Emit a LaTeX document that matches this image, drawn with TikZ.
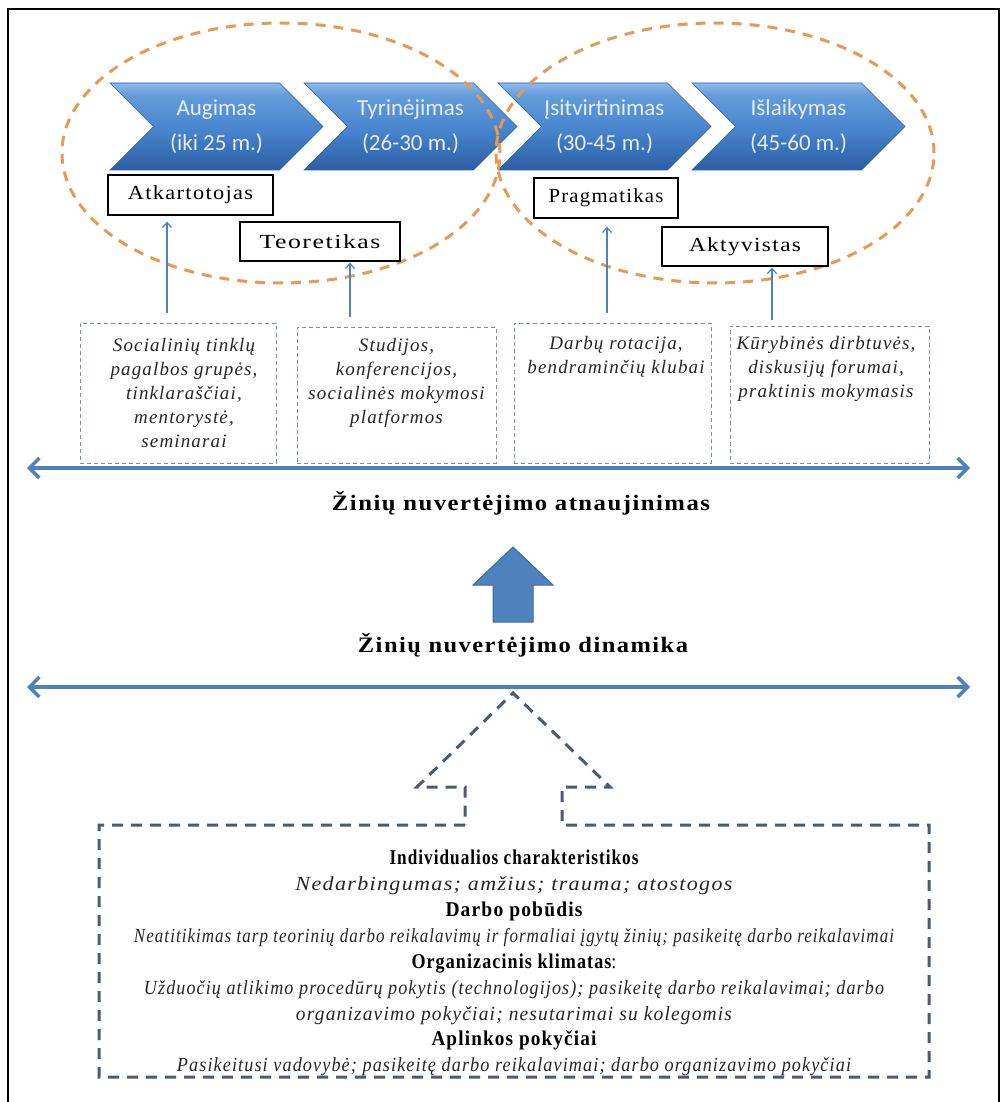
\documentclass[tikz,border=0pt]{standalone}
\usepackage{graphicx}
\usepackage{fontspec}
\setmainfont{Liberation Serif}[LetterSpace=6]
\newfontfamily\chevfont{Carlito}
\usetikzlibrary{arrows.meta,shapes.symbols,calc}

\definecolor{chevT}{HTML}{8CBBEA}
\definecolor{chevM}{HTML}{4A87CF}
\definecolor{chevB}{HTML}{2C5EA4}
\definecolor{chevTxt}{HTML}{E4EEF9}
\definecolor{ringc}{HTML}{E79A55}
\definecolor{steel}{HTML}{4F81BD}
\definecolor{steelD}{HTML}{3A6A9E}
\definecolor{slate}{HTML}{4A5B72}
\definecolor{boxdash}{HTML}{7D8FA8}

\pgfdeclareverticalshading{chevshade}{100bp}{%
  color(0bp)=(chevB); color(25bp)=(chevB); color(50bp)=(chevM);
  color(68bp)=(chevM!60!chevT); color(75bp)=(chevT); color(100bp)=(chevT)}

% stretch a line of text horizontally to a given width
\newcommand\fitw[2]{\resizebox{#1pt}{\height}{#2}}

\tikzset{
  chev/.style={signal, signal from=west, signal to=east,
    minimum width=213pt, minimum height=87pt, inner sep=0pt,
    shading=chevshade, draw=chevB, line width=0.6pt, text=chevTxt,
    font=\chevfont\fontsize{23}{35}\selectfont, align=center},
  ring/.style={draw=ringc, line width=3pt, dash pattern=on 10pt off 8pt},
  lab/.style={draw=black, line width=1.3pt, fill=white, inner sep=0pt,
    font=\fontsize{20}{24}\selectfont},
  dbox/.style={draw=boxdash, line width=0.9pt, dash pattern=on 4pt off 3pt,
    inner sep=0pt},
  boxtxt/.style={anchor=north, inner sep=0pt, align=center, text=black!85,
    font=\itshape\fontsize{19}{24}\selectfont},
  sarrow/.style={draw=steel, line width=1.2pt,
    -{Straight Barb[length=5pt,width=9pt]}},
  longarrow/.style={draw=steel, line width=3.5pt,
    {Straight Barb[length=10pt,width=20pt]}-{Straight Barb[length=10pt,width=20pt]}},
  title/.style={anchor=base, inner sep=0pt, font=\bfseries\fontsize{22}{26}\selectfont},
  head/.style={anchor=base, inner sep=0pt, font=\bfseries\fontsize{21}{24}\selectfont},
  item/.style={anchor=base, inner sep=0pt, text=black!85,
    font=\itshape\fontsize{20}{24}\selectfont},
  outline/.style={draw=slate, line width=3pt, dash pattern=on 11pt off 8pt}
}

\begin{document}
\begin{tikzpicture}[x=1pt,y=-1pt]
\useasboundingbox (0,0) rectangle (1003,1102);
\fill[white] (0,0) rectangle (1003,1102);

% frame
\draw[line width=2pt] (8,1102) -- (8,9) -- (999,9) -- (999,1102);

% career stages
\node[chev] (c1) at (216.5,126.5) {Augimas\\(iki 25 m.)};
\node[chev] (c2) at (410.5,126.5) {Tyrinėjimas\\(26-30 m.)};
\node[chev] (c3) at (604.5,126.5) {Įsitvirtinimas\\(30-45 m.)};
\node[chev] (c4) at (798.5,126.5) {Išlaikymas\\(45-60 m.)};

% two groupings
\draw[ring] (281,153) ellipse [x radius=219pt, y radius=130pt];
\draw[ring] (715,153) ellipse [x radius=219pt, y radius=130pt];

% learner types
\node[lab, minimum width=165pt, minimum height=40pt] (l1) at (190.5,195) {\fitw{125}{Atkartotojas}};
\node[lab, minimum width=160pt, minimum height=39pt] (l2) at (320,241.5) {\fitw{121}{Teoretikas}};
\node[lab, minimum width=144pt, minimum height=40pt] (l3) at (606,198) {\fitw{115}{Pragmatikas}};
\node[lab, minimum width=166pt, minimum height=39pt] (l4) at (745,246.5) {\fitw{112}{Aktyvistas}};

% learning forms
\node[dbox, minimum width=196pt, minimum height=140pt] (b1) at (178,393) {};
\node[dbox, minimum width=199pt, minimum height=136pt] (b2) at (396.5,395) {};
\node[dbox, minimum width=197pt, minimum height=140pt] (b3) at (612.5,393) {};
\node[dbox, minimum width=199pt, minimum height=137pt] (b4) at (829.5,394.5) {};

\node[boxtxt] (t1) at (184,338) {Socialinių tinklų\\pagalbos grupės,\\tinklaraščiai,\\mentorystė,\\seminarai};
\node[boxtxt] (t2) at (396.5,338) {Studijos,\\konferencijos,\\socialinės mokymosi\\platformos};
\node[boxtxt] (t3) at (616,336) {Darbų rotacija,\\bendraminčių klubai};
\node[boxtxt] (t4) at (826,336) {Kūrybinės dirbtuvės,\\diskusijų forumai,\\praktinis mokymasis};

% links from forms to learner types
\coordinate (a1) at (167,0);
\coordinate (a2) at (350,0);
\coordinate (a3) at (607,0);
\coordinate (a4) at (772,0);
\draw[sarrow] ([yshift=10pt]a1 |- b1.north) -- ([yshift=-6pt]a1 |- l1.south);
\draw[sarrow] ([yshift=10pt]a2 |- b2.north) -- ([yshift=-1pt]a2 |- l2.south);
\draw[sarrow] ([yshift=10pt]a3 |- b3.north) -- ([yshift=-8pt]a3 |- l3.south);
\draw[sarrow] ([yshift=6pt]a4 |- b4.north) -- ([yshift=-1pt]a4 |- l4.south);

% upper axis
\coordinate (w1) at (27,468);
\coordinate (e1) at (970,468);
\draw[longarrow] (w1) -- (e1);
\node[title] (ttop) at (521,510) {\fitw{378}{Žinių nuvertėjimo atnaujinimas}};

% solid arrow
\fill[steel, draw=steelD, line width=1pt]
  (493,622) -- (493,585) -- (473,585) -- (513,547) -- (553,585)
  -- (533,585) -- (533,622) -- cycle;

\node[title] (tdyn) at (523,652) {\fitw{330}{Žinių nuvertėjimo dinamika}};

% lower axis
\coordinate (w2) at (27,687);
\coordinate (e2) at (970,687);
\draw[longarrow] (w2) -- (e2);

% dashed arrow merged with the factors frame
\draw[outline] (465,825) -- (99,825) -- (99,1077) -- (929,1077) -- (929,825)
  -- (562,825) -- (562,787) -- (610,787) -- (513,693) -- (417,787)
  -- (465,787) -- cycle;

% factors
\node[head] (k1) at (514,864) {\fitw{249}{Individualios charakteristikos}};
\node[item] (k2) at (514,890) {\fitw{437}{Nedarbingumas; amžius; trauma; atostogos}};
\node[head] (k3) at (514,916) {\fitw{137}{Darbo pobūdis}};
\node[item] (k4) at (514,942) {\fitw{760}{Neatitikimas tarp teorinių darbo reikalavimų ir formaliai įgytų žinių; pasikeitę darbo reikalavimai}};
\node[head] (k5) at (514,968) {\fitw{205}{Organizacinis klimatas\mdseries:}};
\node[item] (k6) at (514,994) {\fitw{740}{Užduočių atlikimo procedūrų pokytis (technologijos); pasikeitę darbo reikalavimai; darbo}};
\node[item] (k7) at (514,1020) {\fitw{436}{organizavimo pokyčiai; nesutarimai su kolegomis}};
\node[head] (k8) at (514,1045) {\fitw{165}{Aplinkos pokyčiai}};
\node[item] (k9) at (514,1071) {\fitw{674}{Pasikeitusi vadovybė; pasikeitę darbo reikalavimai; darbo organizavimo pokyčiai}};
\end{tikzpicture}
\end{document}
